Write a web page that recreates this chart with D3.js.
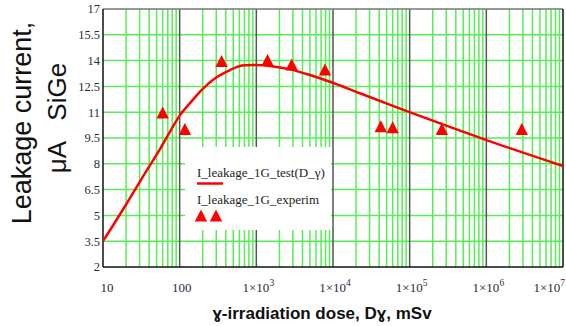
<!DOCTYPE html>
<html>
<head>
<meta charset="utf-8">
<script src="https://cdn.jsdelivr.net/npm/d3@7"></script>
<style>
  html, body { margin: 0; padding: 0; background: #fff; }
  svg { display: block; }
</style>
</head>
<body>
<svg id="chart"></svg>
<script>
// fitted curve I_leakage_1G_test(D_γ)
const curveDose = [10, 17.8, 31.6, 56.2, 100, 136, 203, 303, 453, 611, 1000, 1500, 2750, 5000, 9100, 16600, 22400, 1e5, 1e6, 1e7];
const curveCurrent = [3.5, 5.27, 7.1, 8.9, 10.8, 11.52, 12.39, 13.03, 13.45, 13.69, 13.74, 13.69, 13.49, 13.16, 12.77, 12.33, 12.1, 11.0, 9.38, 7.87];

// experimental points I_leakage_1G_experim
const expDose = [60, 117, 352, 1400, 2890, 7860, 42000, 60000, 263000, 2.9e6];
const expCurrent = [10.95, 10.0, 13.95, 14.0, 13.75, 13.45, 10.15, 10.1, 10.0, 10.0];

const yTicks = [2, 3.5, 5, 6.5, 8, 9.5, 11, 12.5, 14, 15.5, 17];
const xTickPowers = [1, 2, 3, 4, 5, 6, 7];

const W = 566, H = 326;
const plotL = 103, plotR = 563, plotT = 9, plotB = 267;

const svg = d3.select("#chart").attr("width", W).attr("height", H);

const x = d3.scaleLog().domain([10, 1e7]).range([plotL, plotR]);
const y = d3.scaleLinear().domain([2, 17]).range([plotB, plotT]);

const green = "#55ee55";
const serif = "Liberation Serif, Times New Roman, serif";
const sans = "Liberation Sans, Arial, sans-serif";

// horizontal grid
svg.append("g")
  .selectAll("line")
  .data(yTicks.slice(1, -1))
  .enter().append("line")
  .attr("x1", plotL).attr("x2", plotR)
  .attr("y1", d => y(d)).attr("y2", d => y(d))
  .attr("stroke", green).attr("stroke-width", 1.5);

// minor vertical grid (2..9 within each decade)
const allTicks = x.ticks();
const isDecade = d => Math.abs(Math.log10(d) - Math.round(Math.log10(d))) < 1e-9;
svg.append("g")
  .selectAll("line")
  .data(allTicks.filter(d => !isDecade(d)))
  .enter().append("line")
  .attr("x1", d => x(d)).attr("x2", d => x(d))
  .attr("y1", plotT).attr("y2", plotB)
  .attr("stroke", green).attr("stroke-width", 1.5);

// decade lines
svg.append("g")
  .selectAll("line")
  .data(allTicks.filter(d => isDecade(d) && d > 10 && d < 1e7))
  .enter().append("line")
  .attr("x1", d => x(d)).attr("x2", d => x(d))
  .attr("y1", plotT).attr("y2", plotB)
  .attr("stroke", "#555").attr("stroke-width", 1.5);

// frame
svg.append("line").attr("x1", plotL).attr("x2", plotR).attr("y1", plotT).attr("y2", plotT)
  .attr("stroke", "#777").attr("stroke-width", 1.5);
svg.append("line").attr("x1", plotL).attr("x2", plotR).attr("y1", plotB).attr("y2", plotB)
  .attr("stroke", "#111").attr("stroke-width", 1.5);
svg.append("line").attr("x1", plotL).attr("x2", plotL).attr("y1", plotT).attr("y2", plotB)
  .attr("stroke", "#111").attr("stroke-width", 1.5);
svg.append("line").attr("x1", plotR).attr("x2", plotR).attr("y1", plotT).attr("y2", plotB)
  .attr("stroke", "#111").attr("stroke-width", 1.5);

// legend box (white, covers grid)
const lg = svg.append("g");
lg.append("rect").attr("x", 185).attr("y", 147).attr("width", 146).attr("height", 83).attr("fill", "#fff");
lg.append("text").attr("x", 197).attr("y", 177)
  .attr("font-family", serif).attr("font-size", 13).attr("fill", "#222")
  .text("I_leakage_1G_test(D_γ)");
lg.append("line").attr("x1", 197).attr("x2", 223).attr("y1", 183.5).attr("y2", 183.5)
  .attr("stroke", "#ff0000").attr("stroke-width", 2.5);
lg.append("text").attr("x", 197).attr("y", 204)
  .attr("font-family", serif).attr("font-size", 13).attr("fill", "#222")
  .text("I_leakage_1G_experim");

const tri = "M0,-6.5L6.2,5.5L-6.2,5.5Z";
lg.selectAll("path.lt").data([201, 216]).enter().append("path")
  .attr("class", "lt")
  .attr("d", tri).attr("transform", d => `translate(${d},216)`)
  .attr("fill", "#ff0000");

// curve
const line = d3.line()
  .x((d, i) => x(curveDose[i]))
  .y(d => y(d))
  .curve(d3.curveCatmullRom.alpha(0.5));
svg.append("path")
  .attr("d", line(curveCurrent))
  .attr("fill", "none").attr("stroke", "#ff0000").attr("stroke-width", 2.5);

// experimental markers
svg.append("g")
  .selectAll("path")
  .data(expCurrent)
  .enter().append("path")
  .attr("d", tri)
  .attr("transform", (d, i) => `translate(${x(expDose[i])},${y(d)})`)
  .attr("fill", "#ff0000");

// y tick labels
svg.append("g")
  .selectAll("text")
  .data(yTicks)
  .enter().append("text")
  .attr("x", 100).attr("y", d => y(d)).attr("dy", "0.35em")
  .attr("text-anchor", "end")
  .attr("font-family", serif).attr("font-size", 12.5)
  .attr("fill", "#2b2b3b")
  .text(d => d);

// x tick labels (last one is pulled inside the window)
const xl = svg.append("g")
  .selectAll("text")
  .data(xTickPowers)
  .enter().append("text")
  .attr("x", p => p === 7 ? 565 : x(Math.pow(10, p)) + (p === 1 ? 4 : 2))
  .attr("y", 292)
  .attr("text-anchor", p => p === 7 ? "end" : "middle")
  .attr("font-family", serif).attr("font-size", 13)
  .attr("fill", "#2b2b3b");
xl.each(function (p) {
  const t = d3.select(this);
  if (p === 1) t.text("10");
  else if (p === 2) t.text("100");
  else {
    t.append("tspan").text("1×10");
    t.append("tspan").attr("dy", -6).attr("font-size", 9.5).text(p);
  }
});

// axis titles
svg.append("text")
  .attr("transform", "translate(31,123) rotate(-90)")
  .attr("text-anchor", "middle")
  .attr("font-family", sans).attr("font-size", 27)
  .attr("fill", "#111")
  .text("Leakage current,");
svg.append("text")
  .attr("transform", "translate(66,118) rotate(-90)")
  .attr("text-anchor", "middle")
  .attr("font-family", sans).attr("font-size", 26)
  .attr("fill", "#111")
  .style("white-space", "pre")
  .text("μA   SiGe");

svg.append("text")
  .attr("x", 322).attr("y", 319)
  .attr("text-anchor", "middle")
  .attr("font-family", sans).attr("font-size", 17)
  .attr("font-weight", "bold").attr("fill", "#111")
  .text("ɣ-irradiation dose, Dɣ, mSv");
</script>
</body>
</html>
